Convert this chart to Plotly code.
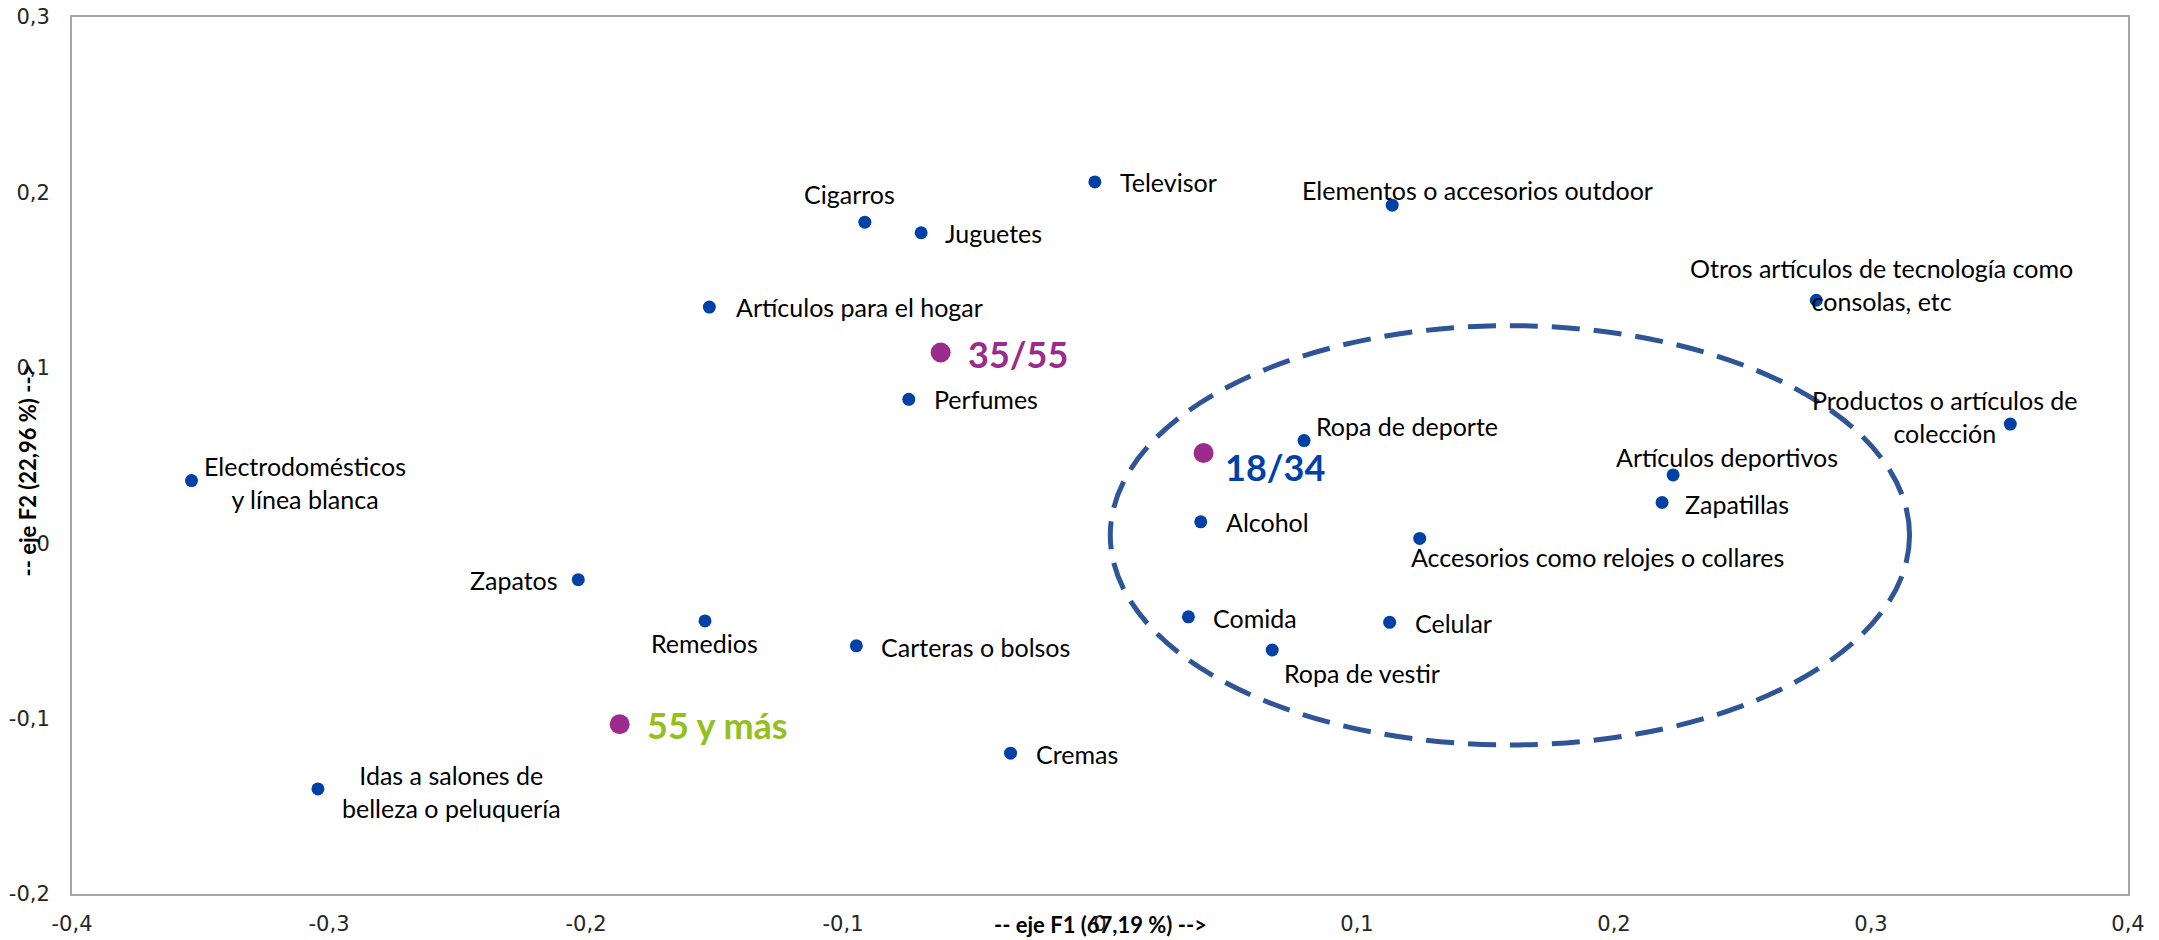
import plotly.graph_objects as go

# ---------------- data ----------------
products = [
    "Televisor", "Cigarros", "Juguetes", "Elementos o accesorios outdoor",
    "Otros artículos de tecnología como\nconsolas, etc", "Artículos para el hogar",
    "Perfumes", "Ropa de deporte", "Productos o artículos de\ncolección",
    "Artículos deportivos", "Electrodomésticos\ny línea blanca", "Zapatillas",
    "Alcohol", "Accesorios como relojes o collares", "Zapatos", "Remedios",
    "Comida", "Celular", "Carteras o bolsos", "Ropa de vestir", "Cremas",
    "Idas a salones de\nbelleza o peluquería",
]
prod_f1 = [-0.002, -0.0915, -0.0696, 0.1137, 0.2787, -0.152, -0.0744, 0.0794,
           0.3542, 0.223, -0.3535, 0.2187, 0.0392, 0.1244, -0.203, -0.1537,
           0.0344, 0.1127, -0.0948, 0.067, -0.0348, -0.3043]
prod_f2 = [0.206, 0.183, 0.177, 0.1927, 0.1385, 0.1346, 0.082, 0.0585,
           0.0679, 0.0389, 0.0357, 0.0232, 0.0122, 0.0027, -0.0208, -0.0443,
           -0.042, -0.0451, -0.0585, -0.0609, -0.1197, -0.1401]

groups = ["18/34", "35/55", "55 y más"]
group_f1 = [0.0403, -0.062, -0.1869]
group_f2 = [0.0514, 0.1087, -0.1032]

ellipse_f1 = [0.004, 0.315]
ellipse_f2 = [-0.115, 0.124]

x_tick_vals = [-0.4, -0.3, -0.2, -0.1, 0.0, 0.1, 0.2, 0.3, 0.4]
x_tick_text = ["-0,4", "-0,3", "-0,2", "-0,1", "0", "0,1", "0,2", "0,3", "0,4"]
y_tick_vals = [-0.2, -0.1, 0.0, 0.1, 0.2, 0.3]
y_tick_text = ["-0,2", "-0,1", "0", "0,1", "0,2", "0,3"]

x_title = "-- eje F1 (67,19 %) -->"
y_title = "-- eje F2 (22,96 %) -->"

# ---------------- styles ----------------
BLUE = "#0041A8"
PURPLE = "#9B2C8E"
GREEN = "#93C01F"
ELLIPSE = "#2F5597"
LABEL_FONT = "Lato"

# label placement: (xanchor, dx px, dy px downward)
label_pos = {
    "Televisor": ("left", 23, 0),
    "Cigarros": ("center", -15, -28),
    "Juguetes": ("left", 22, 0),
    "Elementos o accesorios outdoor": ("center", 85, -15),
    "Otros artículos de tecnología como\nconsolas, etc": ("center", 65, -16),
    "Artículos para el hogar": ("left", 25, 0),
    "Perfumes": ("left", 23, 0),
    "Ropa de deporte": ("left", 10, -15),
    "Productos o artículos de\ncolección": ("center", -65, -8),
    "Artículos deportivos": ("center", 54, -18),
    "Electrodomésticos\ny línea blanca": ("center", 113, 2),
    "Zapatillas": ("left", 21, 1),
    "Alcohol": ("left", 23, 0),
    "Accesorios como relojes o collares": ("center", 178, 19),
    "Zapatos": ("right", -18, 0),
    "Remedios": ("center", 0, 22),
    "Comida": ("left", 23, 1),
    "Celular": ("left", 23, 1),
    "Carteras o bolsos": ("left", 23, 1),
    "Ropa de vestir": ("left", 10, 23),
    "Cremas": ("left", 23, 1),
    "Idas a salones de\nbelleza o peluquería": ("center", 134, 3),
}
group_pos = {
    "18/34": ("left", 19, 14, BLUE),
    "35/55": ("left", 25, 1, PURPLE),
    "55 y más": ("left", 25, 1, GREEN),
}

fig = go.Figure()
fig.add_trace(go.Scatter(
    x=prod_f1, y=prod_f2, mode="markers",
    marker=dict(color=BLUE, size=13, line=dict(width=0)),
    hovertext=products, showlegend=False,
))
fig.add_trace(go.Scatter(
    x=group_f1, y=group_f2, mode="markers",
    marker=dict(color=PURPLE, size=20, line=dict(width=0)),
    hovertext=groups, showlegend=False,
))

annotations = []
for name, xv, yv in zip(products, prod_f1, prod_f2):
    xa, dx, dy = label_pos[name]
    annotations.append(dict(
        x=xv, y=yv, xref="x", yref="y", text=name.replace("\n", "<br>"),
        showarrow=False, xanchor=xa, yanchor="middle", align="center",
        xshift=dx, yshift=-dy,
        font=dict(family=LABEL_FONT, size=25, color="#000000"),
    ))
for name, xv, yv in zip(groups, group_f1, group_f2):
    xa, dx, dy, col = group_pos[name]
    annotations.append(dict(
        x=xv, y=yv, xref="x", yref="y", text="<b>%s</b>" % name,
        showarrow=False, xanchor=xa, yanchor="middle",
        xshift=dx, yshift=-dy,
        font=dict(family=LABEL_FONT, size=36, color=col),
    ))

# axis titles (drawn in the tick-label band, as in the original)
annotations.append(dict(
    x=0.5, y=0, xref="paper", yref="paper", text="<b>%s</b>" % x_title,
    showarrow=False, xanchor="center", yanchor="middle", yshift=-30,
    font=dict(family=LABEL_FONT, size=22, color="#000000"),
))
annotations.append(dict(
    x=0, y=0.5, xref="paper", yref="paper", text="<b>%s</b>" % y_title,
    showarrow=False, xanchor="center", yanchor="middle", xshift=-45, yshift=-15,
    textangle=-90,
    font=dict(family=LABEL_FONT, size=22, color="#000000"),
))

fig.add_shape(
    type="circle", xref="x", yref="y",
    x0=ellipse_f1[0], x1=ellipse_f1[1], y0=ellipse_f2[0], y1=ellipse_f2[1],
    line=dict(color=ELLIPSE, width=5, dash="28px,14px"),
    fillcolor="rgba(0,0,0,0)", layer="above",
)

axis_common = dict(
    showgrid=False, zeroline=False, showline=True, mirror=True,
    linecolor="#A6A6A6", linewidth=2, ticks="", automargin=False,
    tickfont=dict(family="DejaVu Sans", size=21, color="#262626"),
)
fig.update_xaxes(range=[-0.4, 0.4], tickvals=x_tick_vals, ticktext=x_tick_text,
                 ticklabelstandoff=10, **axis_common)
fig.update_yaxes(range=[-0.2, 0.3], tickvals=y_tick_vals, ticktext=y_tick_text,
                 ticklabelstandoff=16, **axis_common)

fig.update_layout(
    width=2159, height=940, autosize=False,
    margin=dict(l=72, r=31, t=17, b=46, pad=0, autoexpand=False),
    plot_bgcolor="white", paper_bgcolor="white",
    annotations=annotations, showlegend=False,
)

fig.write_html("out.html", include_plotlyjs=True,
               config={"displayModeBar": False},
               post_script="document.body.style.margin='0';document.body.style.overflow='hidden';")
